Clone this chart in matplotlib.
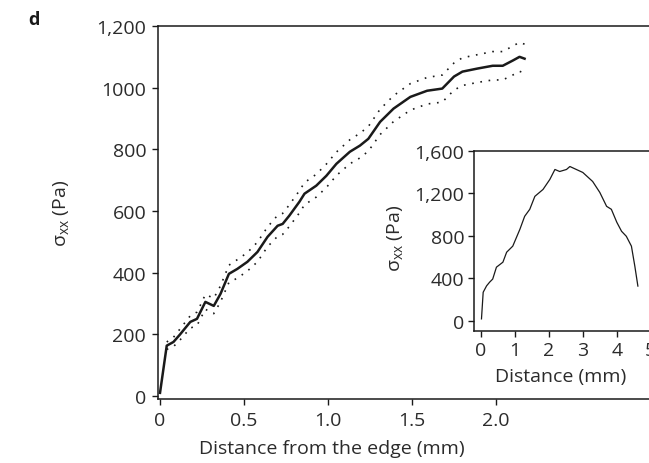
import matplotlib
matplotlib.use("Agg")
import matplotlib.pyplot as plt
from matplotlib.ticker import FixedLocator, FixedFormatter

plt.rcParams['font.family'] = ['Open Sans', 'DejaVu Sans']
plt.rcParams['mathtext.fontset'] = 'custom'
plt.rcParams['mathtext.rm'] = 'Open Sans'
plt.rcParams['mathtext.it'] = 'Open Sans:italic'

# Main panel: stress vs distance from the edge (mean and band)
dist_mm = [0.00, 0.04, 0.08, 0.12, 0.18, 0.22, 0.24, 0.27, 0.32, 0.36, 0.41,
           0.46, 0.52, 0.58, 0.64, 0.70, 0.73, 0.77, 0.83, 0.86, 0.93, 0.99,
           1.05, 1.13, 1.19, 1.24, 1.31, 1.39, 1.49, 1.59, 1.68, 1.75, 1.80,
           1.89, 1.98, 2.04, 2.10, 2.14, 2.17]
stress_pa = [10, 163, 175, 200, 240, 250, 272, 305, 292, 331, 396,
             412, 435, 467, 516, 552, 558, 585, 630, 656, 682, 714,
             753, 792, 812, 834, 889, 932, 970, 990, 997, 1036, 1052,
             1062, 1071, 1071, 1088, 1100, 1094]
band_pa = [5, 12, 15, 18, 20, 22, 22, 24, 25, 26, 28,
           30, 30, 32, 32, 34, 34, 35, 36, 36, 37, 38,
           38, 39, 40, 40, 41, 42, 43, 43, 44, 44, 45,
           45, 46, 46, 47, 47, 47]

# Inset: stress across the whole distance
inset_mm = [0.02, 0.07, 0.17, 0.26, 0.35, 0.46, 0.65, 0.76, 0.94, 1.15, 1.29,
            1.44, 1.59, 1.83, 2.03, 2.18, 2.32, 2.52, 2.62, 2.81, 3.00, 3.29,
            3.50, 3.70, 3.84, 4.00, 4.14, 4.28, 4.43, 4.53, 4.62]
inset_pa = [19, 270, 330, 365, 394, 506, 553, 647, 704, 863, 985,
            1051, 1173, 1238, 1332, 1426, 1407, 1426, 1454, 1426, 1398, 1313,
            1210, 1079, 1051, 929, 844, 797, 704, 516, 328]

main_xticks = [0, 0.5, 1.0, 1.5, 2.0]
main_xlabels = ['0', '0.5', '1.0', '1.5', '2.0']
main_yticks = [0, 200, 400, 600, 800, 1000, 1200]
main_ylabels = ['0', '200', '400', '600', '800', '1000', '1,200']
inset_xticks = [0, 1, 2, 3, 4, 5]
inset_xlabels = ['0', '1', '2', '3', '4', '5']
inset_yticks = [0, 400, 800, 1200, 1600]
inset_ylabels = ['0', '400', '800', '1,200', '1,600']

W, H = 649, 464
FS = 14
fig = plt.figure(figsize=(W / 100, H / 100), dpi=100)
txt = '#2b2b2b'
sigma_label = r'σ$_{\mathrm{xx}}$ (Pa)'


def style(ax, fs, pad):
    ax.spines['right'].set_visible(False)
    for s in ('left', 'bottom', 'top'):
        ax.spines[s].set_linewidth(1.1)
        ax.spines[s].set_color('#1a1a1a')
    ax.tick_params(direction='out', length=4, width=1.0, color='#1a1a1a',
                   labelsize=fs, labelcolor=txt, pad=pad)
    ax.tick_params(top=False, right=False)


# main axes
ax = fig.add_axes([158 / W, 1 - 400 / H, 600 / W, (400 - 27) / H])
upper = [m + b for m, b in zip(stress_pa, band_pa)]
lower = [m - b for m, b in zip(stress_pa, band_pa)]
ax.plot(dist_mm, stress_pa, color='#1a1a1a', lw=1.8, solid_joinstyle='round')
ax.plot(dist_mm[1:], upper[1:], color='#1a1a1a', lw=1.2, ls=(0, (1, 4)))
ax.plot(dist_mm[1:], lower[1:], color='#1a1a1a', lw=1.2, ls=(0, (1, 4)))
ax.set_xlim(-0.012, -0.012 + 600 / 168)
ax.set_ylim(-10, 1200)
ax.xaxis.set_major_locator(FixedLocator(main_xticks))
ax.xaxis.set_major_formatter(FixedFormatter(main_xlabels))
ax.yaxis.set_major_locator(FixedLocator(main_yticks))
ax.yaxis.set_major_formatter(FixedFormatter(main_ylabels))
style(ax, FS, 4.5)
ax.set_xlabel('Distance from the edge (mm)', fontsize=FS, color=txt)
ax.xaxis.set_label_coords((332 - 158) / 600, -40 / 373)
ax.set_ylabel(sigma_label, fontsize=FS, color=txt)
ax.yaxis.set_label_coords(-0.145, 0.5)

# inset axes
ax2 = fig.add_axes([474 / W, 1 - 332 / H, 200 / W, (332 - 152) / H])
ax2.plot(inset_mm, inset_pa, color='#1a1a1a', lw=0.9)
ax2.set_xlim(-0.2, -0.2 + 200 / 34)
ax2.set_ylim(-95, 1600)
ax2.xaxis.set_major_locator(FixedLocator(inset_xticks))
ax2.xaxis.set_major_formatter(FixedFormatter(inset_xlabels))
ax2.yaxis.set_major_locator(FixedLocator(inset_yticks))
ax2.yaxis.set_major_formatter(FixedFormatter(inset_ylabels))
style(ax2, FS, 3)
ax2.set_xlabel('Distance (mm)', fontsize=FS, color=txt)
ax2.xaxis.set_label_coords((561 - 474) / 200, -36 / 180)
ax2.set_ylabel(sigma_label, fontsize=FS, color=txt)
ax2.yaxis.set_label_coords(-0.345, 0.52)

fig.text(28 / W, 1 - 20 / H, 'd', fontsize=13, fontweight='bold',
         color='#1a1a1a', va='center', ha='left')

fig.savefig('out.png', dpi=100)
